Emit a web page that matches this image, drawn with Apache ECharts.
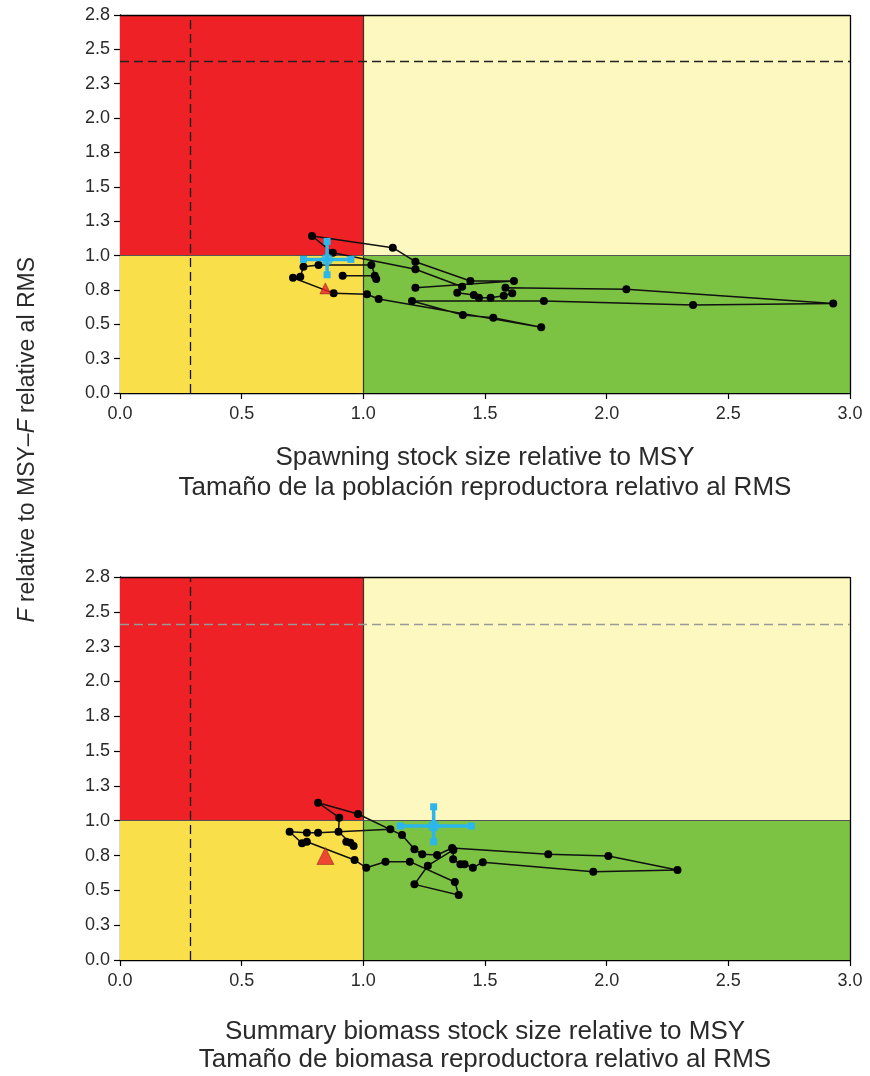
<!DOCTYPE html>
<html><head><meta charset="utf-8">
<script src="https://cdn.jsdelivr.net/npm/echarts@6/dist/echarts.min.js"></script>
<style>html,body{margin:0;padding:0;background:#fff}#c{width:870px;height:1076px}</style>
</head><body><div id="c"></div>
<script>
// ---- data ----
const xTicks = [0, 0.5, 1, 1.5, 2, 2.5, 3];
const yTicks = [0, 0.25, 0.5, 0.75, 1, 1.25, 1.5, 1.75, 2, 2.25, 2.5, 2.75];
const refMSY = 1.0;
const limitX = 0.29;      // vertical dashed line
const limitY = 2.41;      // horizontal dashed line

// top panel: spawning stock size trajectory
const topX = [0.915,1.047,1.053,1.033,0.816,0.754,0.741,0.711,0.878,1.015,1.063,1.731,1.534,1.409,1.200,1.742,2.355,2.931,2.081,1.584,1.612,1.577,1.523,1.475,1.454,1.386,1.406,1.214,0.875,0.789,1.121,1.214,1.440,1.619,1.214];
const topY = [0.853,0.853,0.829,0.931,0.931,0.919,0.846,0.839,0.725,0.718,0.684,0.478,0.548,0.567,0.669,0.669,0.640,0.652,0.754,0.766,0.725,0.708,0.693,0.693,0.713,0.729,0.773,0.900,1.020,1.142,1.057,0.955,0.815,0.815,0.766];
const topTriangle = [0.844, 0.761];
const topCurrent = {x:0.851, y:0.972, xLo:0.754, xHi:0.949, yLo:0.860, yHi:1.103};

// bottom panel: summary biomass trajectory
const botX = [0.930,0.947,0.960,0.898,0.901,0.814,0.978,1.159,1.210,1.242,1.303,1.365,1.760,2.007,2.291,1.945,1.491,1.450,1.416,1.399,1.369,1.370,1.265,1.210,1.392,1.376,1.191,1.091,1.012,0.964,0.768,0.748,0.697,0.768,0.814,1.111];
const botY = [0.849,0.842,0.818,0.921,1.022,1.129,1.048,0.897,0.795,0.759,0.754,0.804,0.759,0.747,0.646,0.634,0.701,0.663,0.687,0.687,0.723,0.790,0.677,0.543,0.467,0.560,0.706,0.706,0.663,0.718,0.849,0.838,0.921,0.914,0.914,0.938];
const botTriangle = [0.844, 0.747];
const botCurrent = {x:1.289, y:0.962, xLo:1.152, xHi:1.444, yLo:0.849, yHi:1.100};

const xTitles = [
  'Spawning stock size relative to MSY\nTamaño de la población reproductora relativo al RMS',
  'Summary biomass stock size relative to MSY\nTamaño de biomasa reproductora relativo al RMS'
];
// ---- end data ----

const FONT = 'Liberation Sans, Arial, sans-serif';
const RED = '#ED2126', LYEL = '#FDF8BF', YEL = '#F9E04B', GRN = '#7CC243', BLUE = '#2BB6EC';
const TXT = '#2a2a2a';
const xMax = xTicks[xTicks.length-1], yMax = yTicks[yTicks.length-1];

const grids = [
  {left:120, right:20, top:15, height:378},
  {left:120, right:20, top:577, height:383}
];

function fmt(v){ return (Math.round(v*10)/10).toFixed(1); }

const xAxes = [0,1].map(i => ({
  type:'value', gridIndex:i, min:xTicks[0], max:xMax, interval:0.5,
  axisLine:{show:true, onZero:false, lineStyle:{color:'#000', width:1.3}},
  axisTick:{show:true, length:6, lineStyle:{color:'#000', width:1.2}},
  axisLabel:{fontFamily:FONT, fontSize:18, color:TXT, margin:12, formatter:fmt},
  splitLine:{show:false},
  name:xTitles[i], nameLocation:'middle', nameGap: i===0 ? 50 : 58,
  nameTextStyle:{fontFamily:FONT, fontSize:26, color:TXT, lineHeight: i===0 ? 30 : 28, verticalAlign:'top'}
}));
const yAxes = [0,1].map(i => ({
  type:'value', gridIndex:i, min:yTicks[0], max:yMax, interval:0.25,
  axisLine:{show:true, onZero:false, lineStyle:{color:'#000', width:1.3}},
  axisTick:{show:true, length:6, lineStyle:{color:'#000', width:1.2}},
  axisLabel:{fontFamily:FONT, fontSize:18, color:TXT, margin:10, formatter:fmt},
  splitLine:{show:false}
}));

function panel(i, X, Y, tri, cur, hDashColor){
  const traj = X.map((x,k)=>[x, Y[k]]);
  const s = [];
  s.push({
    type:'line', xAxisIndex:i, yAxisIndex:i, data:[], z:1, silent:true,
    markArea:{silent:true, data:[
      [{xAxis:0, yAxis:refMSY, itemStyle:{color:RED}}, {xAxis:refMSY, yAxis:yMax}],
      [{xAxis:refMSY, yAxis:refMSY, itemStyle:{color:LYEL}}, {xAxis:xMax, yAxis:yMax}],
      [{xAxis:0, yAxis:0, itemStyle:{color:YEL}}, {xAxis:refMSY, yAxis:refMSY}],
      [{xAxis:refMSY, yAxis:0, itemStyle:{color:GRN}}, {xAxis:xMax, yAxis:refMSY}]
    ]}
  });
  s.push({
    type:'line', xAxisIndex:i, yAxisIndex:i, data:[], z:2, silent:true,
    markLine:{silent:true, symbol:'none', label:{show:false}, data:[
      {xAxis:refMSY, lineStyle:{color:'#333', width:1.2, type:'solid'}},
      {yAxis:refMSY, lineStyle:{color:'#555', width:1.2, type:'solid'}},
      {xAxis:xMax, lineStyle:{color:'#000', width:1.3, type:'solid'}},
      {yAxis:yMax, lineStyle:{color:'#000', width:1.3, type:'solid'}},
      {xAxis:limitX, lineStyle:{color:'#111', width:1.3, type:[9,5]}},
      {yAxis:limitY, lineStyle:{color:hDashColor, width:1.3, type:[9,5]}}
    ]}
  });
  s.push({
    type:'line', xAxisIndex:i, yAxisIndex:i, data:traj, z:5,
    symbol:'circle', symbolSize:8, itemStyle:{color:'#000'},
    lineStyle:{color:'#111', width:1.5}, animation:false
  });
  s.push({
    type:'scatter', xAxisIndex:i, yAxisIndex:i, data:[tri], z:6,
    symbol:'triangle', symbolSize: i===0 ? 11 : 17,
    itemStyle:{color:'#E8212A', borderColor:'#7a1515', borderWidth:0.6}
  });
  s.push({
    type:'line', xAxisIndex:i, yAxisIndex:i, z:7,
    data:[[cur.xLo, cur.y],[cur.xHi, cur.y]],
    symbol:'rect', symbolSize:7, itemStyle:{color:BLUE}, lineStyle:{color:BLUE, width:3.5}
  });
  s.push({
    type:'line', xAxisIndex:i, yAxisIndex:i, z:7,
    data:[[cur.x, cur.yLo],[cur.x, cur.yHi]],
    symbol:'rect', symbolSize:7, itemStyle:{color:BLUE}, lineStyle:{color:BLUE, width:3.5}
  });
  s.push({
    type:'scatter', xAxisIndex:i, yAxisIndex:i, z:8,
    data:[[cur.x, cur.y]], symbol:'circle', symbolSize:12, itemStyle:{color:BLUE}
  });
  return s;
}

const chart = echarts.init(document.getElementById('c'), null, {renderer:'canvas'});
chart.setOption({
  animation:false,
  grid:grids,
  xAxis:xAxes,
  yAxis:yAxes,
  graphic:[{
    type:'text', left:16, top:257, rotation:Math.PI/2, originX:0, originY:0,
    style:{
      text:'{i|F} relative to MSY–{i|F} relative al RMS',
      font:'23px Liberation Sans', fill:TXT,
      rich:{i:{fontStyle:'italic', fontFamily:FONT, fontSize:23, fill:TXT}}
    }
  }],
  series:[].concat(panel(0, topX, topY, topTriangle, topCurrent, '#222'),
                   panel(1, botX, botY, botTriangle, botCurrent, '#999'))
});
</script>
</body></html>
